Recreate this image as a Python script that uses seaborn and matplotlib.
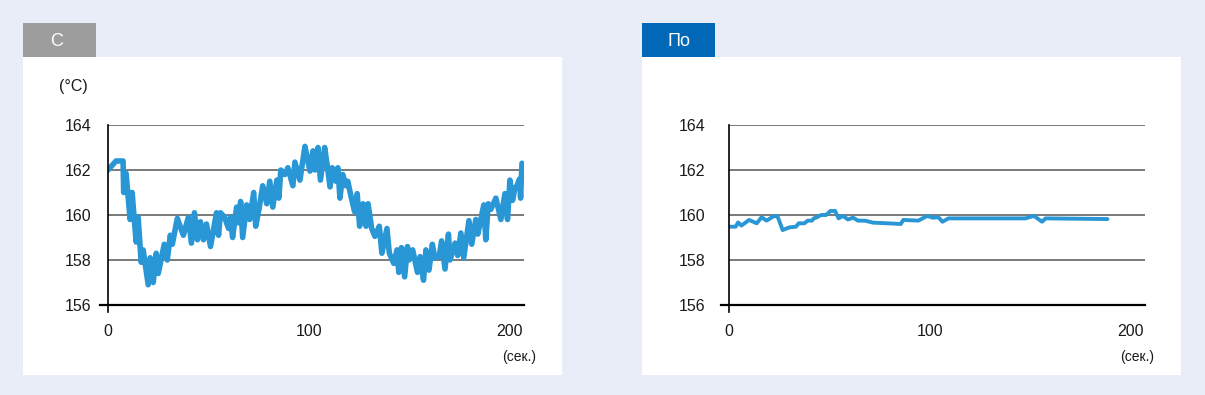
import matplotlib
matplotlib.use("Agg")
import matplotlib.pyplot as plt
from matplotlib.patches import Rectangle
import seaborn as sns

# left panel: temperature (C) vs time (s)
left_t = [0, 4, 7.5, 7.8, 9, 11, 12, 14, 15, 16.5,
          17.5, 20, 21, 22.5, 24, 25, 28, 29.5, 31, 32,
          34.5, 37.5, 40, 41.5, 43, 44.5, 46, 47.5, 49, 51,
          54, 55, 56, 58, 60, 61, 62, 64, 65, 66,
          67, 69, 70.5, 72.5, 73.5, 75, 77, 79, 80.5, 82,
          84, 85, 86, 88, 89.5, 92, 93, 95.5, 98, 100.5,
          102, 103, 104.5, 105.7, 107.8, 109, 110.5, 111.6, 113.4, 114.4,
          115.4, 116.8, 118.4, 119.3, 121, 122.7, 124, 125.2, 126.9, 128.4,
          129.4, 131.2, 132.8, 135, 136.3, 138.8, 140, 142.2, 143.8, 144.7,
          146, 147.6, 149, 149.8, 151.6, 154, 155.3, 157, 158.2, 159.7,
          161.4, 162.6, 164.8, 166, 167.7, 169.4, 170.2, 172.7, 174, 175.6,
          177, 179.6, 181, 183, 184, 187, 188, 189.2, 190.5, 193,
          195.5, 197.5, 198.8, 200, 201.3, 202.5, 203.5, 204.8, 205.3, 206]
left_temp = [162.0, 162.4, 162.4, 161.0, 161.85, 159.8, 161.0, 158.8, 159.9, 157.9,
             158.45, 156.9, 158.1, 157.0, 158.3, 157.4, 158.7, 158.0, 159.1, 158.7,
             159.85, 159.1, 159.9, 158.75, 160.1, 158.9, 159.7, 158.9, 159.6, 158.6,
             160.1, 159.1, 160.1, 159.9, 159.4, 159.9, 159.0, 160.35, 159.65, 160.6,
             159.0, 160.45, 159.8, 161.0, 159.5, 160.2, 161.3, 160.5, 161.5, 160.35,
             161.55, 160.75, 162.0, 161.8, 162.1, 161.3, 162.35, 161.55, 163.05, 161.95,
             162.85, 162.0, 163.0, 161.55, 163.0, 162.25, 161.25, 162.1, 161.5, 162.1,
             160.75, 161.8, 161.3, 161.5, 160.8, 160.15, 160.95, 159.5, 160.5, 159.5,
             160.5, 159.4, 159.05, 159.5, 158.3, 159.4, 158.3, 157.85, 158.45, 157.45,
             158.55, 157.25, 158.6, 158.0, 158.45, 157.45, 158.15, 157.1, 158.45, 157.55,
             158.7, 158.1, 158.15, 158.85, 157.6, 159.15, 158.0, 158.75, 158.2, 159.2,
             158.1, 159.75, 158.7, 159.8, 159.15, 160.45, 158.9, 160.5, 160.25, 160.75,
             159.8, 160.95, 159.8, 161.55, 160.65, 161.2, 161.3, 161.6, 160.75, 162.3]

# right panel
right_t = [0, 3.3, 4.5, 6.2, 10, 13.8, 16.2, 18.7, 22.5, 24.2,
           26.7, 30, 33.3, 34.7, 37.5, 39.2, 41.3, 42.2, 43.8, 45.8,
           48.3, 50.5, 52.8, 54.5, 56.7, 59.2, 61.7, 64.2, 67.5, 71.7,
           79.2, 85.5, 86.7, 94.2, 98.7, 101.3, 104.2, 106.2, 109.2, 147.5,
           151.7, 155.8, 157.5, 188.3]
right_temp = [159.48, 159.48, 159.67, 159.53, 159.78, 159.63, 159.9, 159.75, 159.96, 159.93,
              159.33, 159.45, 159.48, 159.63, 159.63, 159.75, 159.75, 159.85, 159.9, 160.0,
              160.0, 160.18, 160.18, 159.85, 159.96, 159.8, 159.88, 159.75, 159.75, 159.66,
              159.63, 159.6, 159.78, 159.75, 159.96, 159.88, 159.9, 159.7, 159.85, 159.85,
              159.96, 159.7, 159.85, 159.82]

tab_labels = ["C", "По"]
y_ticks = [156, 158, 160, 162, 164]
x_ticks = [0, 100, 200]

sns.set_style("white")
plt.rcParams['font.family'] = ['Liberation Sans', 'DejaVu Sans']
plt.rcParams['text.color'] = '#1a1a1a'

W, H = 1205, 395
bg = '#E9EDF7'
line_c = '#2996D5'
fig = plt.figure(figsize=(W / 100, H / 100), dpi=100, facecolor=bg)

# background layer in pixel coords
bg_ax = fig.add_axes([0, 0, 1, 1], zorder=-1)
bg_ax.set_xlim(0, W)
bg_ax.set_ylim(H, 0)
bg_ax.axis('off')


def px_rect(x0, y0, x1, y1, color):
    bg_ax.add_patch(Rectangle((x0, y0), x1 - x0, y1 - y0, color=color, lw=0))


# white panels and tabs
px_rect(23, 57, 562, 375, 'white')
px_rect(642, 57, 1181, 375, 'white')
px_rect(23, 23, 96, 57, '#9D9D9D')
px_rect(642, 23, 715, 57, '#0068B7')
bg_ax.text(57, 41, tab_labels[0], color='white', fontsize=13, ha='center', va='center')
bg_ax.text(679, 41, tab_labels[1], color='white', fontsize=13, ha='center', va='center')
bg_ax.text(73, 87, '(°C)', fontsize=11.5, ha='center', va='center')
bg_ax.text(536, 357, '(сек.)', fontsize=10, ha='right', va='center')
bg_ax.text(1154, 357, '(сек.)', fontsize=10, ha='right', va='center')

ax1 = fig.add_axes([108 / W, 1 - 305 / H, 416 / W, 180 / H])
ax2 = fig.add_axes([729 / W, 1 - 305 / H, 416 / W, 180 / H])

sns.lineplot(x=left_t, y=left_temp, ax=ax1, color=line_c, linewidth=4.0,
             estimator=None, sort=False)
sns.lineplot(x=right_t, y=right_temp, ax=ax2, color=line_c, linewidth=2.8,
             estimator=None, sort=False)

for ax, ypad in [(ax1, 8), (ax2, 13)]:
    ax.set_facecolor('none')
    ax.set_xlim(0, 207)
    ax.set_ylim(156, 164)
    ax.set_xticks(x_ticks)
    ax.set_yticks(y_ticks)
    ax.grid(axis='y', color='#7a7a7a', linewidth=1.4)
    ax.set_axisbelow(True)
    ax.tick_params(axis='x', length=0, pad=14, labelsize=11.5, labelcolor='#1a1a1a')
    ax.tick_params(axis='y', length=4, width=1.4, color='#7a7a7a', pad=ypad,
                   labelsize=11.5, labelcolor='#1a1a1a')
    ax.spines['top'].set_visible(False)
    ax.spines['right'].set_visible(False)
    ax.spines['left'].set_color('black')
    ax.spines['left'].set_linewidth(1.2)
    ax.spines['left'].set_bounds(155.7, 164)
    ax.spines['bottom'].set_color('black')
    ax.spines['bottom'].set_linewidth(1.6)
    ax.spines['bottom'].set_bounds(-4, 207)
    ax.set_xlabel('')
    ax.set_ylabel('')

fig.savefig('out.png', dpi=100, facecolor=bg)
